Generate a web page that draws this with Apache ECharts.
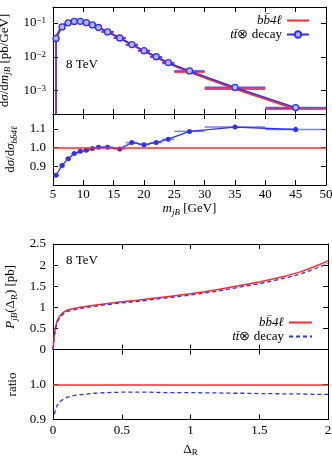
<!DOCTYPE html>
<html>
<head>
<meta charset="utf-8">
<script src="https://cdn.jsdelivr.net/npm/echarts@6/dist/echarts.min.js"></script>
<style>
  html, body { margin: 0; padding: 0; background: #fff; }
  #chart { width: 332px; height: 457px; }
</style>
</head>
<body>
<div id="chart"></div>
<script>
// m_jB bins (GeV)
const binLo = [5, 6, 7, 8, 9, 10, 11, 12, 13, 15, 17, 19, 21, 23, 25, 30, 40]
const binHi = [6, 7, 8, 9, 10, 11, 12, 13, 15, 17, 19, 21, 23, 25, 30, 40, 50]
const binMid = [5.5, 6.5, 7.5, 8.5, 9.5, 10.5, 11.5, 12.5, 14, 16, 18, 20, 22, 24, 27.5, 35, 45]
// dsigma/dm_jB [pb/GeV]
const bbTop = [0.040, 0.085, 0.108, 0.116, 0.115, 0.105, 0.089, 0.074, 0.0545, 0.0363, 0.0224, 0.0150, 0.0098, 0.0064, 0.0035, 0.00111, 0.00028]
const ttTop = [0.035, 0.077, 0.102, 0.112, 0.113, 0.103, 0.088, 0.074, 0.0546, 0.036, 0.023, 0.0152, 0.0100, 0.0067, 0.0038, 0.00123, 0.00031]
// lower errors only (first bin reaches zero)
const bbTopErrDown = [0.040, 0, 0, 0, 0, 0, 0, 0, 0, 0, 0, 0, 0, 0, 0, 0, 0]
const ttTopErrDown = [0.035, 0, 0, 0, 0, 0, 0, 0, 0, 0, 0, 0, 0, 0, 0, 0, 0]
const topErrUp = [0, 0, 0, 0, 0, 0, 0, 0, 0, 0, 0, 0, 0, 0, 0, 0, 0]
// ratio tt/bb4l
const ratioTop = [0.852, 0.905, 0.941, 0.968, 0.980, 0.986, 0.995, 1.002, 1.002, 0.993, 1.027, 1.016, 1.027, 1.045, 1.087, 1.110, 1.097]
const ratioTopErr = [0.008, 0.006, 0.005, 0.004, 0.004, 0.004, 0.004, 0.004, 0.004, 0.005, 0.006, 0.006, 0.007, 0.010, 0.006, 0.008, 0.016]

// P_jB(Delta_R) [pb]
const dR = [0, 0.005, 0.01, 0.02, 0.03, 0.05, 0.075, 0.1, 0.15, 0.2, 0.3, 0.4, 0.5, 0.6, 0.7, 0.8, 0.9, 1.0, 1.1, 1.2, 1.3, 1.4, 1.5, 1.6, 1.7, 1.8, 1.9, 2.0]
const pBB = [0, 0.20, 0.36, 0.55, 0.68, 0.80, 0.88, 0.93, 0.97, 1.00, 1.05, 1.09, 1.13, 1.16, 1.20, 1.24, 1.28, 1.32, 1.37, 1.42, 1.48, 1.54, 1.60, 1.67, 1.75, 1.84, 1.96, 2.10]
const pTT = [0, 0.18, 0.33, 0.51, 0.64, 0.76, 0.843, 0.896, 0.939, 0.971, 1.024, 1.065, 1.105, 1.134, 1.174, 1.211, 1.251, 1.290, 1.337, 1.386, 1.443, 1.502, 1.558, 1.627, 1.703, 1.790, 1.905, 2.041]
const ratioBot = [null, null, 0.915, 0.93, 0.94, 0.951, 0.958, 0.963, 0.968, 0.971, 0.975, 0.977, 0.978, 0.978, 0.978, 0.977, 0.977, 0.977, 0.976, 0.976, 0.975, 0.975, 0.974, 0.974, 0.973, 0.973, 0.972, 0.972]

const RED = '#ff2a2a'
const BLUE = '#2f2fff'
const FONT = 'Liberation Serif'

const legendNames = {
  bbTop: '{i|bb̄4ℓ}',
  ttTop: '{i|tt̄}⊗ decay',
  bbBot: '{i|bb̄4ℓ}',
  ttBot: '{i|tt̄}⊗ decay'
}

const chart = echarts.init(document.getElementById('chart'))

function pairs (xs, ys) {
  return xs.map((x, i) => [x, ys[i]]).filter(p => p[1] !== null)
}

// [lo, hi, value, errDown, errUp, mid]
function binData (vals, errDown, errUp) {
  return binLo.map((lo, i) => [lo, binHi[i], vals[i], errDown[i], errUp[i], binMid[i]])
}

// horizontal bin-width bars plus vertical error bars
function binBars (color, width) {
  return function (params, api) {
    const lo = api.value(0)
    const hi = api.value(1)
    const v = api.value(2)
    const errDown = api.value(3)
    const errUp = api.value(4)
    const mid = api.value(5)
    const a = api.coord([lo, v])
    const b = api.coord([hi, v])
    const children = [{
      type: 'line',
      shape: { x1: a[0], y1: a[1], x2: b[0], y2: b[1] },
      style: { stroke: color, lineWidth: width }
    }]
    if (errDown > 0 || errUp > 0) {
      const top = api.coord([mid, v + errUp])
      let yLow
      if (v - errDown > 0) {
        yLow = api.coord([mid, v - errDown])[1]
      } else {
        yLow = params.coordSys.y + params.coordSys.height
      }
      children.push({
        type: 'line',
        shape: { x1: top[0], y1: top[1], x2: top[0], y2: yLow },
        style: { stroke: color, lineWidth: width }
      })
    }
    return { type: 'group', children: children }
  }
}

const grids = [
  { left: 53, top: 7, width: 273, height: 107, containLabel: false, outerBoundsMode: 'none' },
  { left: 53, top: 114, width: 273, height: 71, containLabel: false, outerBoundsMode: 'none' },
  { left: 53, top: 244, width: 275, height: 105.5, containLabel: false, outerBoundsMode: 'none' },
  { left: 53, top: 349.5, width: 275, height: 70, containLabel: false, outerBoundsMode: 'none' }
]

const labelStyle = {
  fontFamily: FONT,
  fontSize: 13,
  color: '#000'
}

const nameRich = {
  t: { fontFamily: FONT, fontSize: 13, lineHeight: 16, verticalAlign: 'middle', color: '#000' },
  i: { fontFamily: FONT, fontSize: 13, fontStyle: 'italic', lineHeight: 16, verticalAlign: 'middle', color: '#000' },
  s: { fontFamily: FONT, fontSize: 9, fontStyle: 'italic', lineHeight: 9, verticalAlign: 'bottom', color: '#000' },
  r: { fontFamily: FONT, fontSize: 9, lineHeight: 9, verticalAlign: 'bottom', color: '#000' }
}

const frameLine = { show: true, onZero: false, lineStyle: { color: '#000', width: 1 } }
const tickIn = { show: true, inside: true, length: 5, lineStyle: { color: '#000', width: 1 } }

const xRanges = [
  { min: 5, max: 50, interval: 5 },
  { min: 5, max: 50, interval: 5 },
  { min: 0, max: 2, interval: 0.5 },
  { min: 0, max: 2, interval: 0.5 }
]

const xAxes = []
grids.forEach((g, gi) => {
  const r = xRanges[gi]
  const showLabels = gi === 1 || gi === 3
  const base = {
    type: 'value',
    gridIndex: gi,
    min: r.min,
    max: r.max,
    interval: r.interval,
    axisLine: frameLine,
    axisTick: tickIn,
    splitLine: { show: false }
  }
  xAxes.push(Object.assign({}, base, {
    position: 'bottom',
    axisLabel: showLabels
      ? Object.assign({ show: true, margin: gi === 1 ? 3 : 5 }, labelStyle)
      : { show: false }
  }))
  xAxes.push(Object.assign({}, base, { position: 'top', axisLabel: { show: false } }))
})
xAxes[2].name = '{i|m}{s|jB}{t| [GeV]}'
xAxes[2].nameLocation = 'middle'
xAxes[2].nameGap = 16
xAxes[2].nameTextStyle = { rich: nameRich }
xAxes[6].name = '{t|Δ}{r|R}'
xAxes[6].nameLocation = 'middle'
xAxes[6].nameGap = 22
xAxes[6].nameTextStyle = { rich: nameRich }

function isPow10 (v) {
  const l = Math.log10(v)
  return Math.abs(l - Math.round(l)) < 1e-6
}

const yAxes = []
const yDefs = [
  {
    type: 'log', min: 2e-4, max: 0.3, logBase: 10,
    formatter: v => isPow10(v) ? '10{sup|−' + Math.abs(Math.round(Math.log10(v))) + '}' : '',
    name: '{t|d}{i|σ}{t|/d}{i|m}{s|jB}{t| [pb/GeV]}', nameGap: 38
  },
  {
    type: 'value', min: 0.8, max: 1.18, interval: 0.1,
    formatter: v => (v > 0.85 && v < 1.15) ? v.toFixed(1) : '',
    name: '{t|d}{i|σ}{t|/d}{i|σ}{s|bb̄4ℓ}', nameGap: 30
  },
  {
    type: 'value', min: 0, max: 2.5, interval: 0.5,
    formatter: v => String(Math.round(v * 10) / 10),
    name: '{i|P}{s|jB}{t|(Δ}{r|R}{t|) [pb]}', nameGap: 29
  },
  {
    type: 'value', min: 0.9, max: 1.1, interval: 0.1,
    formatter: v => v < 1.05 ? v.toFixed(1) : '',
    name: '{t|ratio}', nameGap: 28
  }
]

grids.forEach((g, gi) => {
  const d = yDefs[gi]
  const base = {
    type: d.type,
    gridIndex: gi,
    min: d.min,
    max: d.max,
    axisLine: frameLine,
    axisTick: tickIn,
    splitLine: { show: false }
  }
  if (d.interval) base.interval = d.interval
  if (d.logBase) base.logBase = d.logBase
  yAxes.push(Object.assign({}, base, {
    position: 'left',
    name: d.name,
    nameLocation: 'middle',
    nameRotate: 90,
    nameGap: d.nameGap,
    nameTextStyle: { rich: nameRich },
    axisLabel: Object.assign({
      show: true,
      margin: 7,
      formatter: d.formatter,
      rich: {
        sup: { fontFamily: FONT, fontSize: 9, lineHeight: 8, verticalAlign: 'top', color: '#000' }
      }
    }, labelStyle)
  }))
  yAxes.push(Object.assign({}, base, { position: 'right', axisLabel: { show: false } }))
})

const refLine = {
  silent: true,
  symbol: 'none',
  label: { show: false },
  lineStyle: { color: RED, width: 1.5, type: 'solid' },
  data: [{ yAxis: 1 }]
}

// legend entries drawn as plain lines (hide the default legend symbol)
const noSymbol = { color: 'rgba(0,0,0,0)', borderWidth: 0 }

const option = {
  animation: false,
  backgroundColor: '#fff',
  title: [
    { text: '8 TeV', left: 61, top: 53, textStyle: { fontFamily: FONT, fontSize: 13, fontWeight: 'normal', color: '#000' } },
    { text: '8 TeV', left: 61, top: 249, textStyle: { fontFamily: FONT, fontSize: 13, fontWeight: 'normal', color: '#000' } }
  ],
  legend: [
    {
      data: [{ name: 'bbTop', itemStyle: noSymbol }, 'ttTop'],
      orient: 'vertical',
      align: 'right',
      right: 17,
      top: 9,
      itemWidth: 22,
      itemHeight: 8,
      itemGap: 1,
      formatter: n => legendNames[n],
      textStyle: { fontFamily: FONT, fontSize: 13, color: '#000', rich: nameRich }
    },
    {
      data: [{ name: 'bbBot', itemStyle: noSymbol }, { name: 'ttBot', itemStyle: noSymbol }],
      orient: 'vertical',
      align: 'right',
      right: 14,
      top: 311,
      itemWidth: 23,
      itemHeight: 8,
      itemGap: 1,
      formatter: n => legendNames[n],
      textStyle: { fontFamily: FONT, fontSize: 13, color: '#000', rich: nameRich }
    }
  ],
  grid: grids,
  xAxis: xAxes,
  yAxis: yAxes,
  series: [
    // top panel
    {
      name: 'bbBars', type: 'custom', xAxisIndex: 0, yAxisIndex: 0, clip: true,
      renderItem: binBars('rgba(255,42,42,0.85)', 2),
      encode: { x: [0, 1], y: 2 },
      data: binData(bbTop, bbTopErrDown, topErrUp)
    },
    {
      name: 'bbTop', type: 'line', xAxisIndex: 0, yAxisIndex: 0,
      symbol: 'none', lineStyle: { color: RED, width: 2 }, itemStyle: { color: RED },
      data: pairs(binMid, bbTop)
    },
    {
      name: 'ttBars', type: 'custom', xAxisIndex: 0, yAxisIndex: 0, clip: true,
      renderItem: binBars('rgba(47,47,255,0.8)', 1.6),
      encode: { x: [0, 1], y: 2 },
      data: binData(ttTop, ttTopErrDown, topErrUp)
    },
    {
      name: 'ttTop', type: 'line', xAxisIndex: 0, yAxisIndex: 0,
      symbol: 'circle', symbolSize: 6, showSymbol: true,
      lineStyle: { color: BLUE, width: 1.5 },
      itemStyle: { color: '#b8b8ff', borderColor: BLUE, borderWidth: 1.3 },
      data: pairs(binMid, ttTop)
    },
    // ratio panel (top)
    {
      name: 'ratioBars', type: 'custom', xAxisIndex: 2, yAxisIndex: 2, clip: true,
      renderItem: binBars('rgba(70,70,255,0.7)', 1.5),
      encode: { x: [0, 1], y: 2 },
      data: binData(ratioTop, ratioTopErr, ratioTopErr)
    },
    {
      name: 'ratioTop', type: 'line', xAxisIndex: 2, yAxisIndex: 2,
      symbol: 'circle', symbolSize: 5,
      lineStyle: { color: BLUE, width: 1.3 },
      itemStyle: { color: BLUE },
      markLine: refLine,
      data: pairs(binMid, ratioTop)
    },
    // P_jB panel
    {
      name: 'bbBot', type: 'line', xAxisIndex: 4, yAxisIndex: 4,
      symbol: 'none', lineStyle: { color: RED, width: 1.5 }, itemStyle: { color: RED },
      data: pairs(dR, pBB)
    },
    {
      name: 'ttBot', type: 'line', xAxisIndex: 4, yAxisIndex: 4,
      symbol: 'none', lineStyle: { color: BLUE, width: 1.3, type: [4, 3] }, itemStyle: { color: BLUE },
      data: pairs(dR, pTT)
    },
    // ratio panel (bottom)
    {
      name: 'ratioBot', type: 'line', xAxisIndex: 6, yAxisIndex: 6,
      symbol: 'none', lineStyle: { color: BLUE, width: 1.3, type: [4, 3] },
      markLine: refLine,
      data: pairs(dR, ratioBot)
    }
  ]
}

chart.setOption(option)
</script>
</body>
</html>
